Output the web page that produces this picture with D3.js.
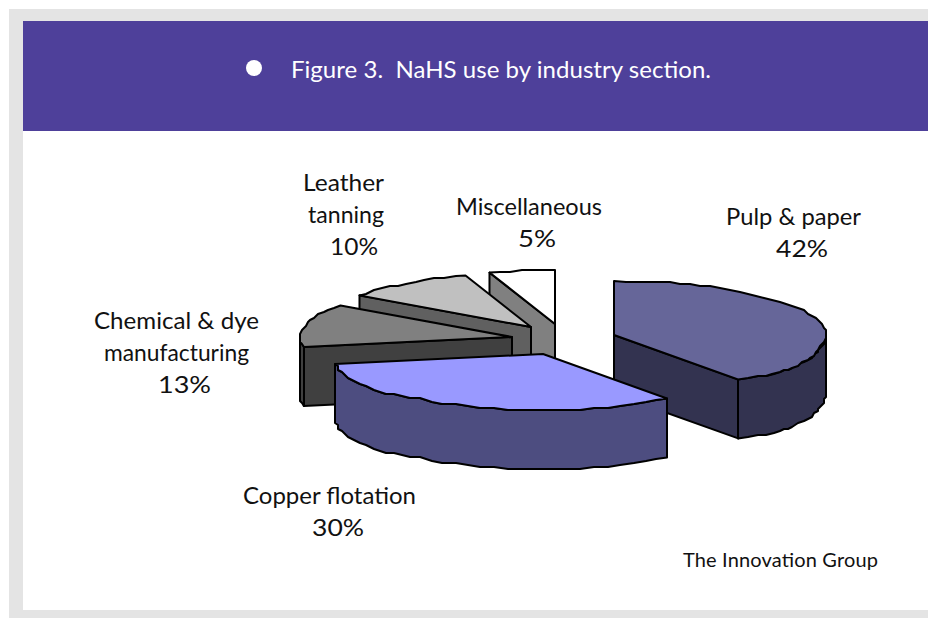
<!DOCTYPE html>
<html>
<head>
<meta charset="utf-8">
<script src="https://cdn.jsdelivr.net/npm/d3@7"></script>
<style>
  html, body { margin: 0; padding: 0; background: #fff; }
  svg { display: block; }
  text { font-family: Lato, "Open Sans", sans-serif; fill: #111; }
</style>
</head>
<body>
<div id="chart"></div>
<script>
const title = 'Figure 3.  NaHS use by industry section.';
const source = 'The Innovation Group';

const categories = ['Pulp & paper', 'Copper flotation', 'Chemical & dye manufacturing', 'Leather tanning', 'Miscellaneous'];
const shares = [42, 30, 13, 10, 5];
const topColors = ['#666699', '#9999ff', '#808080', '#c0c0c0', '#ffffff'];
const wallColors = ['#333350', '#4d4d80', '#404040', '#606060', '#808080'];

// how the label of each slice breaks over lines, the % line is added below
const labelLines = [['Pulp & paper'], ['Copper flotation'], ['Chemical & dye', 'manufacturing'], ['Leather', 'tanning'], ['Miscellaneous']];

const width = 928;
const height = 618;

const svg = d3.select('#chart').append('svg')
  .attr('width', width)
  .attr('height', height);

// frame
svg.append('rect').attr('width', width).attr('height', height).attr('fill', '#fff');
svg.append('rect').attr('x', 9).attr('y', 9).attr('width', width - 9).attr('height', height - 9).attr('fill', '#e4e4e4');
svg.append('rect').attr('x', 23).attr('y', 21).attr('width', width - 23).attr('height', 589).attr('fill', '#fff');
svg.append('rect').attr('x', 23).attr('y', 21).attr('width', width - 23).attr('height', 110).attr('fill', '#4e409a');

svg.append('circle').attr('cx', 254).attr('cy', 68).attr('r', 8).attr('fill', '#fff');
svg.append('text')
  .attr('x', 291).attr('y', 78)
  .attr('font-size', 24)
  .attr('textLength', 420)
  .style('fill', '#fff')
  .style('white-space', 'pre')
  .text(title);

// PIE
const pie = d3.pie().sort(null).value(d => d);
const slices = pie(shares);

// unit circle to pixels, squashed for the tilt
const sx = d3.scaleLinear().domain([-1, 1]).range([-212, 212]);
const sy = d3.scaleLinear().domain([-1, 1]).range([-54, 54]);
const depth = 59;
const cx = 570;
const cy = 340;

// how far each slice is pulled out of the pie, in px
const pull = [[44, -5], [-27, 14], [-58, -3], [-39, -13], [-15, -16]];

// front of the pie is not a clean ellipse in the source, these bend it to fit
const frontY = d3.scaleLinear().domain([0, 0.6, 0.875, 1]).range([0, 0.6, 0.82, 1.04]);
const frontX = d3.scaleLinear().domain([0, 0.25, 0.6, 0.875, 1]).range([1, 1, 1.05, 1.215, 1.3]);

function project(angle) {
  const ux = Math.sin(angle);
  const uy = -Math.cos(angle);
  if (uy <= 0) return [sx(ux), sy(uy)];
  return [sx(ux) * frontX(uy), sy(frontY(uy))];
}

const line = d3.line();

function arcPoints(a0, a1, ox, oy) {
  const steps = Math.max(1, Math.round((a1 - a0) / (Math.PI / 60)));
  return d3.range(steps + 1).map(i => {
    const a = a0 + (a1 - a0) * i / steps;
    const [x, y] = project(a);
    // the source was a coarse raster, the curve edges wobble a little
    const snap = i === 0 || i === steps ? 0.5 : 2;
    return [Math.round((ox + x) / snap) * snap, Math.round((oy + y) / snap) * snap];
  });
}

const g = svg.append('g');
const drawOrder = [4, 3, 2, 0, 1];

drawOrder.forEach(i => {
  const s = slices[i];
  const ox = cx + pull[i][0];
  const oy = cy + pull[i][1];
  const group = g.append('g');
  const a0 = s.startAngle;
  const a1 = s.endAngle;

  const wall = pts => group.append('path')
    .attr('d', line(pts) + 'Z')
    .attr('fill', wallColors[i])
    .attr('stroke', '#000')
    .attr('stroke-width', 2)
    .attr('stroke-linejoin', 'round');

  // flat walls, only the ones turned to the viewer
  [[a0, Math.sin(a0) < -1e-6], [a1, Math.sin(a1) > 1e-6]].forEach(([a, visible]) => {
    if (!visible) return;
    const [x, y] = project(a);
    wall([[ox, oy], [ox + x, oy + y], [ox + x, oy + y + depth], [ox, oy + depth]]);
  });

  // curved wall on the near half of the pie
  const w0 = Math.max(a0, Math.PI / 2);
  const w1 = Math.min(a1, Math.PI * 1.5);
  if (w1 > w0) {
    const top = arcPoints(w0, w1, ox, oy);
    const bottom = top.map(p => [p[0], p[1] + depth]).reverse();
    wall(top.concat(bottom));
  }

  // top face
  group.append('path')
    .attr('d', line([[ox, oy]].concat(arcPoints(a0, a1, ox, oy))) + 'Z')
    .attr('fill', topColors[i])
    .attr('stroke', '#000')
    .attr('stroke-width', 2)
    .attr('stroke-linejoin', 'round');
});

// LABELS
const labelX = [[793.5, 802], [329.5, 338], [176.5, 176.5, 184.5], [343.5, 346, 354], [529, 537]];
const labelWidth = [[135, 52], [173, 52], [165, 145, 53], [81, 76, 48], [146, 38]];
const labelY = [225, 504, 329, 191, 215];
const rowHeight = 32;

const labels = svg.append('g').attr('font-size', 24).attr('text-anchor', 'middle');
categories.forEach((c, i) => {
  labelLines[i].concat(shares[i] + '%').forEach((t, j) => {
    labels.append('text')
      .attr('x', labelX[i][j])
      .attr('y', labelY[i] + j * rowHeight)
      .attr('textLength', labelWidth[i][j])
      .attr('lengthAdjust', 'spacingAndGlyphs')
      .text(t);
  });
});

svg.append('text')
  .attr('x', 683).attr('y', 567)
  .attr('font-size', 20)
  .attr('textLength', 195)
  .text(source);
</script>
</body>
</html>
